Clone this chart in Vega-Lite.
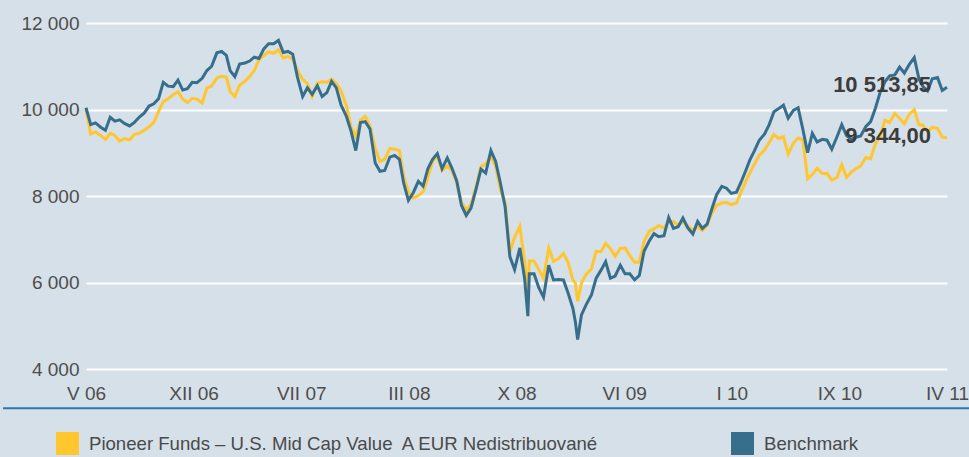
{
  "$schema": "https://vega.github.io/schema/vega-lite/v6.json",
  "width": 861,
  "height": 346,
  "autosize": {"type": "none"},
  "padding": {"left": 86, "top": 23, "right": 22, "bottom": 88},
  "background": "#d6e0e8",
  "config": {
    "view": {"stroke": null},
    "font": "Liberation Sans",
    "locale": {"number": {"decimal": ",", "thousands": " ", "grouping": [3], "currency": ["", " €"]}}
  },
  "datasets": {
    "prices": [
      {"date": "2006-05-01", "fund": 10000, "benchmark": 10040},
      {"date": "2006-05-11", "fund": 9430, "benchmark": 9650},
      {"date": "2006-05-21", "fund": 9480, "benchmark": 9690},
      {"date": "2006-06-01", "fund": 9400, "benchmark": 9590},
      {"date": "2006-06-11", "fund": 9310, "benchmark": 9520},
      {"date": "2006-06-21", "fund": 9450, "benchmark": 9820},
      {"date": "2006-07-01", "fund": 9400, "benchmark": 9730},
      {"date": "2006-07-11", "fund": 9270, "benchmark": 9760},
      {"date": "2006-07-21", "fund": 9330, "benchmark": 9680},
      {"date": "2006-08-01", "fund": 9300, "benchmark": 9620},
      {"date": "2006-08-11", "fund": 9420, "benchmark": 9700},
      {"date": "2006-08-21", "fund": 9450, "benchmark": 9820},
      {"date": "2006-09-01", "fund": 9520, "benchmark": 9920},
      {"date": "2006-09-11", "fund": 9600, "benchmark": 10080},
      {"date": "2006-09-21", "fund": 9700, "benchmark": 10130},
      {"date": "2006-10-01", "fund": 9950, "benchmark": 10250},
      {"date": "2006-10-11", "fund": 10180, "benchmark": 10630},
      {"date": "2006-10-21", "fund": 10250, "benchmark": 10540},
      {"date": "2006-11-01", "fund": 10340, "benchmark": 10530},
      {"date": "2006-11-11", "fund": 10410, "benchmark": 10680},
      {"date": "2006-11-21", "fund": 10240, "benchmark": 10450},
      {"date": "2006-12-01", "fund": 10160, "benchmark": 10480},
      {"date": "2006-12-11", "fund": 10260, "benchmark": 10630},
      {"date": "2006-12-21", "fund": 10240, "benchmark": 10620},
      {"date": "2007-01-01", "fund": 10150, "benchmark": 10720},
      {"date": "2007-01-11", "fund": 10497, "benchmark": 10900},
      {"date": "2007-01-21", "fund": 10540, "benchmark": 11000},
      {"date": "2007-02-01", "fund": 10730, "benchmark": 11310},
      {"date": "2007-02-11", "fund": 10766, "benchmark": 11343},
      {"date": "2007-02-21", "fund": 10750, "benchmark": 11250},
      {"date": "2007-03-01", "fund": 10418, "benchmark": 10900},
      {"date": "2007-03-11", "fund": 10300, "benchmark": 10760},
      {"date": "2007-03-21", "fund": 10560, "benchmark": 11050},
      {"date": "2007-04-01", "fund": 10650, "benchmark": 11074},
      {"date": "2007-04-11", "fund": 10760, "benchmark": 11120},
      {"date": "2007-04-21", "fund": 10900, "benchmark": 11210},
      {"date": "2007-05-01", "fund": 11150, "benchmark": 11180},
      {"date": "2007-05-11", "fund": 11250, "benchmark": 11400},
      {"date": "2007-05-21", "fund": 11330, "benchmark": 11520},
      {"date": "2007-06-01", "fund": 11300, "benchmark": 11520},
      {"date": "2007-06-11", "fund": 11380, "benchmark": 11600},
      {"date": "2007-06-21", "fund": 11190, "benchmark": 11320},
      {"date": "2007-07-01", "fund": 11229, "benchmark": 11343},
      {"date": "2007-07-11", "fund": 11160, "benchmark": 11280},
      {"date": "2007-07-21", "fund": 10900, "benchmark": 10750},
      {"date": "2007-08-01", "fund": 10700, "benchmark": 10300},
      {"date": "2007-08-11", "fund": 10600, "benchmark": 10500},
      {"date": "2007-08-21", "fund": 10300, "benchmark": 10350},
      {"date": "2007-09-01", "fund": 10613, "benchmark": 10550},
      {"date": "2007-09-11", "fund": 10640, "benchmark": 10300},
      {"date": "2007-09-21", "fund": 10630, "benchmark": 10390},
      {"date": "2007-10-01", "fund": 10700, "benchmark": 10650},
      {"date": "2007-10-11", "fund": 10600, "benchmark": 10500},
      {"date": "2007-10-21", "fund": 10430, "benchmark": 10100},
      {"date": "2007-11-01", "fund": 10100, "benchmark": 9850},
      {"date": "2007-11-11", "fund": 9600, "benchmark": 9500},
      {"date": "2007-11-21", "fund": 9380, "benchmark": 9050},
      {"date": "2007-12-01", "fund": 9750, "benchmark": 9700},
      {"date": "2007-12-11", "fund": 9840, "benchmark": 9720},
      {"date": "2007-12-21", "fund": 9620, "benchmark": 9550},
      {"date": "2008-01-01", "fund": 9100, "benchmark": 8763},
      {"date": "2008-01-11", "fund": 8800, "benchmark": 8570},
      {"date": "2008-01-21", "fund": 8850, "benchmark": 8590},
      {"date": "2008-02-01", "fund": 9100, "benchmark": 8900},
      {"date": "2008-02-11", "fund": 9080, "benchmark": 8940},
      {"date": "2008-02-21", "fund": 9050, "benchmark": 8850},
      {"date": "2008-03-01", "fund": 8455, "benchmark": 8300},
      {"date": "2008-03-11", "fund": 8100, "benchmark": 7900},
      {"date": "2008-03-21", "fund": 7950, "benchmark": 8070},
      {"date": "2008-04-01", "fund": 8010, "benchmark": 8340},
      {"date": "2008-04-11", "fund": 8100, "benchmark": 8230},
      {"date": "2008-04-21", "fund": 8430, "benchmark": 8630},
      {"date": "2008-05-01", "fund": 8800, "benchmark": 8850},
      {"date": "2008-05-11", "fund": 8930, "benchmark": 8980},
      {"date": "2008-05-21", "fund": 8590, "benchmark": 8630},
      {"date": "2008-06-01", "fund": 8690, "benchmark": 8880},
      {"date": "2008-06-11", "fund": 8590, "benchmark": 8640},
      {"date": "2008-06-21", "fund": 8300, "benchmark": 8350},
      {"date": "2008-07-01", "fund": 7850, "benchmark": 7780},
      {"date": "2008-07-11", "fund": 7680, "benchmark": 7550},
      {"date": "2008-07-21", "fund": 7800, "benchmark": 7720},
      {"date": "2008-08-01", "fund": 8230, "benchmark": 8170},
      {"date": "2008-08-11", "fund": 8680, "benchmark": 8620},
      {"date": "2008-08-21", "fund": 8740, "benchmark": 8530},
      {"date": "2008-09-01", "fund": 8900, "benchmark": 9050},
      {"date": "2008-09-11", "fund": 8700, "benchmark": 8800},
      {"date": "2008-09-21", "fund": 8140, "benchmark": 8300},
      {"date": "2008-10-01", "fund": 7850, "benchmark": 7750},
      {"date": "2008-10-11", "fund": 6700, "benchmark": 6600},
      {"date": "2008-10-21", "fund": 7050, "benchmark": 6300},
      {"date": "2008-11-01", "fund": 7300, "benchmark": 6800},
      {"date": "2008-11-11", "fund": 6500, "benchmark": 6100},
      {"date": "2008-11-18", "fund": 5760, "benchmark": 5220},
      {"date": "2008-11-21", "fund": 6500, "benchmark": 6200},
      {"date": "2008-12-01", "fund": 6500, "benchmark": 6200},
      {"date": "2008-12-11", "fund": 6300, "benchmark": 5880},
      {"date": "2008-12-21", "fund": 6100, "benchmark": 5660},
      {"date": "2009-01-01", "fund": 6800, "benchmark": 6400},
      {"date": "2009-01-11", "fund": 6490, "benchmark": 6060},
      {"date": "2009-01-21", "fund": 6550, "benchmark": 6070},
      {"date": "2009-02-01", "fund": 6670, "benchmark": 6060},
      {"date": "2009-02-11", "fund": 6460, "benchmark": 5750},
      {"date": "2009-02-21", "fund": 6050, "benchmark": 5400},
      {"date": "2009-02-26", "fund": 5990, "benchmark": 5100},
      {"date": "2009-03-03", "fund": 5564, "benchmark": 4680},
      {"date": "2009-03-11", "fund": 5990, "benchmark": 5250},
      {"date": "2009-03-21", "fund": 6190, "benchmark": 5490},
      {"date": "2009-04-01", "fund": 6310, "benchmark": 5710},
      {"date": "2009-04-11", "fund": 6720, "benchmark": 6100},
      {"date": "2009-04-21", "fund": 6710, "benchmark": 6280},
      {"date": "2009-05-01", "fund": 6900, "benchmark": 6480},
      {"date": "2009-05-11", "fund": 6780, "benchmark": 6100},
      {"date": "2009-05-21", "fund": 6604, "benchmark": 6150},
      {"date": "2009-06-01", "fund": 6790, "benchmark": 6400},
      {"date": "2009-06-11", "fund": 6800, "benchmark": 6200},
      {"date": "2009-06-21", "fund": 6620, "benchmark": 6200},
      {"date": "2009-07-01", "fund": 6470, "benchmark": 6060},
      {"date": "2009-07-11", "fund": 6470, "benchmark": 6160},
      {"date": "2009-07-21", "fund": 6950, "benchmark": 6720},
      {"date": "2009-08-01", "fund": 7180, "benchmark": 6960},
      {"date": "2009-08-11", "fund": 7240, "benchmark": 7130},
      {"date": "2009-08-21", "fund": 7320, "benchmark": 7060},
      {"date": "2009-09-01", "fund": 7260, "benchmark": 7080},
      {"date": "2009-09-11", "fund": 7400, "benchmark": 7500},
      {"date": "2009-09-21", "fund": 7410, "benchmark": 7250},
      {"date": "2009-10-01", "fund": 7320, "benchmark": 7290},
      {"date": "2009-10-11", "fund": 7410, "benchmark": 7492},
      {"date": "2009-10-21", "fund": 7310, "benchmark": 7270},
      {"date": "2009-11-01", "fund": 7200, "benchmark": 7120},
      {"date": "2009-11-11", "fund": 7280, "benchmark": 7410},
      {"date": "2009-11-21", "fund": 7200, "benchmark": 7250},
      {"date": "2009-12-01", "fund": 7320, "benchmark": 7350},
      {"date": "2009-12-11", "fund": 7600, "benchmark": 7700},
      {"date": "2009-12-21", "fund": 7780, "benchmark": 8030},
      {"date": "2010-01-01", "fund": 7838, "benchmark": 8222},
      {"date": "2010-01-11", "fund": 7850, "benchmark": 8180},
      {"date": "2010-01-21", "fund": 7800, "benchmark": 8060},
      {"date": "2010-02-01", "fund": 7838, "benchmark": 8090},
      {"date": "2010-02-11", "fund": 8100, "benchmark": 8330},
      {"date": "2010-02-21", "fund": 8350, "benchmark": 8600},
      {"date": "2010-03-01", "fund": 8530, "benchmark": 8830},
      {"date": "2010-03-11", "fund": 8740, "benchmark": 9050},
      {"date": "2010-03-21", "fund": 8940, "benchmark": 9290},
      {"date": "2010-04-01", "fund": 9060, "benchmark": 9430},
      {"date": "2010-04-11", "fund": 9235, "benchmark": 9650},
      {"date": "2010-04-21", "fund": 9420, "benchmark": 9950},
      {"date": "2010-05-01", "fund": 9330, "benchmark": 10020},
      {"date": "2010-05-11", "fund": 9370, "benchmark": 10100},
      {"date": "2010-05-21", "fund": 8970, "benchmark": 9800},
      {"date": "2010-06-01", "fund": 9225, "benchmark": 9980},
      {"date": "2010-06-11", "fund": 9340, "benchmark": 10040},
      {"date": "2010-06-21", "fund": 9300, "benchmark": 9540},
      {"date": "2010-07-01", "fund": 8400, "benchmark": 9000},
      {"date": "2010-07-11", "fund": 8500, "benchmark": 9450},
      {"date": "2010-07-21", "fund": 8640, "benchmark": 9250},
      {"date": "2010-08-01", "fund": 8520, "benchmark": 9310},
      {"date": "2010-08-11", "fund": 8520, "benchmark": 9290},
      {"date": "2010-08-21", "fund": 8370, "benchmark": 9080},
      {"date": "2010-09-01", "fund": 8430, "benchmark": 9370},
      {"date": "2010-09-11", "fund": 8720, "benchmark": 9650},
      {"date": "2010-09-21", "fund": 8430, "benchmark": 9400},
      {"date": "2010-10-01", "fund": 8550, "benchmark": 9310},
      {"date": "2010-10-11", "fund": 8630, "benchmark": 9360},
      {"date": "2010-10-21", "fund": 8700, "benchmark": 9390},
      {"date": "2010-11-01", "fund": 8890, "benchmark": 9610},
      {"date": "2010-11-11", "fund": 8860, "benchmark": 9720},
      {"date": "2010-11-21", "fund": 9210, "benchmark": 10030},
      {"date": "2010-12-01", "fund": 9380, "benchmark": 10400},
      {"date": "2010-12-11", "fund": 9750, "benchmark": 10640},
      {"date": "2010-12-21", "fund": 9700, "benchmark": 10780},
      {"date": "2011-01-01", "fund": 9910, "benchmark": 10800},
      {"date": "2011-01-11", "fund": 9800, "benchmark": 10980},
      {"date": "2011-01-21", "fund": 9670, "benchmark": 10844},
      {"date": "2011-02-01", "fund": 9900, "benchmark": 11050},
      {"date": "2011-02-11", "fund": 9995, "benchmark": 11200},
      {"date": "2011-02-21", "fund": 9640, "benchmark": 10700},
      {"date": "2011-03-01", "fund": 9640, "benchmark": 10534},
      {"date": "2011-03-11", "fund": 9480, "benchmark": 10430},
      {"date": "2011-03-21", "fund": 9590, "benchmark": 10710},
      {"date": "2011-04-01", "fund": 9560, "benchmark": 10740},
      {"date": "2011-04-11", "fund": 9360, "benchmark": 10440},
      {"date": "2011-04-21", "fund": 9344, "benchmark": 10513.85}
    ],
    "ends": [
      {"date": "2011-04-21", "series": "fund", "name": "Pioneer Funds – U.S. Mid Cap Value\u00a0 A EUR Nedistribuované", "value": 9344},
      {"date": "2011-04-21", "series": "benchmark", "name": "Benchmark", "value": 10513.85}
    ],
    "separator": [
      {"date": "2005-11-07", "date2": "2011-06-10", "value": 3094}
    ]
  },
  "encoding": {
    "x": {
      "field": "date",
      "type": "temporal",
      "scale": {
        "type": "utc",
        "domain": [
          {"year": 2006, "month": 5, "date": 1, "utc": true},
          {"year": 2011, "month": 4, "date": 21, "utc": true}
        ]
      },
      "axis": {
        "title": null,
        "grid": false,
        "domain": false,
        "ticks": false,
        "labelPadding": 15,
        "labelFontSize": 19,
        "labelColor": "#4d4d4d",
        "labelOverlap": false,
        "labelFlush": false,
        "values": [
          {"year": 2006, "month": 5, "date": 1, "utc": true},
          {"year": 2006, "month": 12, "date": 14, "utc": true},
          {"year": 2007, "month": 7, "date": 29, "utc": true},
          {"year": 2008, "month": 3, "date": 12, "utc": true},
          {"year": 2008, "month": 10, "date": 25, "utc": true},
          {"year": 2009, "month": 6, "date": 9, "utc": true},
          {"year": 2010, "month": 1, "date": 22, "utc": true},
          {"year": 2010, "month": 9, "date": 6, "utc": true},
          {"year": 2011, "month": 4, "date": 21, "utc": true}
        ],
        "labelExpr": "['I','II','III','IV','V','VI','VII','VIII','IX','X','XI','XII'][utcmonth(datum.value)] + ' ' + utcFormat(datum.value, '%y')"
      }
    },
    "y": {
      "field": "value",
      "type": "quantitative",
      "scale": {"domain": [4000, 12000], "nice": false, "zero": false},
      "axis": {
        "title": null,
        "values": [4000, 6000, 8000, 10000, 12000],
        "format": ",.0f",
        "domain": false,
        "ticks": false,
        "labelPadding": 7,
        "labelFontSize": 19,
        "labelColor": "#4d4d4d",
        "gridColor": "#ffffff",
        "gridWidth": 2,
        "gridOpacity": 1
      }
    }
  },
  "layer": [
    {
      "data": {"name": "separator"},
      "mark": {"type": "rule", "color": "#2c74b2", "strokeWidth": 2},
      "encoding": {"x2": {"field": "date2"}}
    },
    {
      "data": {"name": "prices"},
      "transform": [
        {"fold": ["fund", "benchmark"], "as": ["series", "value"]},
        {"filter": "datum.series == 'fund'"}
      ],
      "mark": {"type": "line", "strokeWidth": 3, "interpolate": "linear"},
      "encoding": {
        "stroke": {
          "field": "series",
          "type": "nominal",
          "scale": {"domain": ["fund", "benchmark"], "range": ["#ffc62e", "#376e8c"]},
          "legend": null
        }
      }
    },
    {
      "data": {"name": "prices"},
      "transform": [
        {"fold": ["fund", "benchmark"], "as": ["series", "value"]},
        {"filter": "datum.series == 'benchmark'"}
      ],
      "mark": {"type": "line", "strokeWidth": 3, "interpolate": "linear"},
      "encoding": {
        "stroke": {"field": "series", "type": "nominal", "legend": null}
      }
    },
    {
      "data": {"name": "ends"},
      "mark": {"type": "square", "size": 0, "filled": true},
      "encoding": {
        "color": {
          "field": "name",
          "type": "nominal",
          "sort": null,
          "scale": {"range": ["#ffc62e", "#376e8c"]},
          "legend": {
            "orient": "none",
            "legendX": -30,
            "legendY": 409,
            "direction": "horizontal",
            "title": null,
            "padding": 0,
            "symbolType": "square",
            "symbolSize": 529,
            "symbolOpacity": 1,
            "symbolStrokeWidth": 0,
            "labelFont": "Liberation Sans",
            "labelFontSize": 18.6,
            "labelColor": "#4a4a4a",
            "labelOffset": 10,
            "labelLimit": 800,
            "columnPadding": 131
          }
        }
      }
    },
    {
      "data": {"name": "ends"},
      "mark": {
        "type": "text",
        "align": "right",
        "baseline": "middle",
        "dx": -16,
        "dy": -2,
        "fontSize": 22,
        "fontWeight": "bold",
        "color": "#3c3c3c"
      },
      "encoding": {
        "text": {"field": "value", "type": "quantitative", "format": ",.2f"}
      }
    }
  ]
}
